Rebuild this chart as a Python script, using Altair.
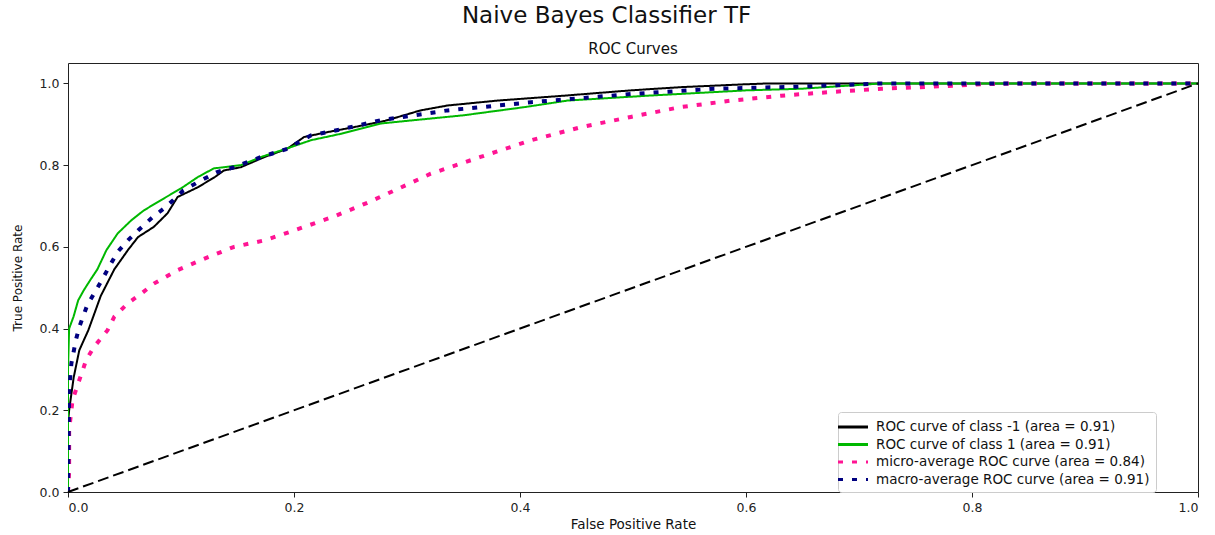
import altair as alt
import pandas as pd

# ---- data ----
series_names = [
    "ROC curve of class -1 (area = 0.91)",
    "ROC curve of class 1 (area = 0.91)",
    "micro-average ROC curve (area = 0.84)",
    "macro-average ROC curve (area = 0.91)",
]
series_colors = ["#000000", "#00b800", "#ff1493", "#000080"]
series_widths = [2, 2, 4, 4]
series_dashes = [[1, 0], [1, 0], [5, 9], [5, 9]]

fpr_neg1 = [0, 0, 0.001, 0.005, 0.01, 0.018, 0.029, 0.041, 0.053, 0.062, 0.076, 0.088, 0.097,
            0.115, 0.13, 0.138, 0.153, 0.174, 0.194, 0.209, 0.23, 0.253, 0.28, 0.312, 0.336,
            0.38, 0.439, 0.498, 0.543, 0.6, 0.62, 1.0]
tpr_neg1 = [0, 0.17, 0.2, 0.28, 0.347, 0.396, 0.48, 0.545, 0.592, 0.624, 0.649, 0.682, 0.722,
            0.746, 0.771, 0.787, 0.795, 0.82, 0.84, 0.869, 0.881, 0.893, 0.908, 0.934, 0.946,
            0.958, 0.97, 0.983, 0.991, 0.998, 1.0, 1.0]

fpr_pos1 = [0, 0, 0.001, 0.005, 0.009, 0.014, 0.02, 0.026, 0.034, 0.044, 0.056, 0.067, 0.082,
            0.1, 0.115, 0.129, 0.153, 0.171, 0.194, 0.215, 0.242, 0.277, 0.306, 0.35, 0.404,
            0.442, 0.513, 0.6, 0.649, 0.72, 1.0]
tpr_pos1 = [0, 0.3, 0.4, 0.43, 0.469, 0.494, 0.52, 0.545, 0.592, 0.633, 0.665, 0.689, 0.714,
            0.743, 0.771, 0.792, 0.80, 0.82, 0.841, 0.861, 0.877, 0.902, 0.91, 0.922, 0.942,
            0.958, 0.97, 0.983, 0.987, 1.0, 1.0]

fpr_micro = [0, 0.001, 0.001, 0.004, 0.009, 0.013, 0.016, 0.023, 0.035, 0.041, 0.053, 0.065,
             0.076, 0.097, 0.124, 0.147, 0.174, 0.2, 0.236, 0.265, 0.292, 0.321, 0.365, 0.41,
             0.454, 0.498, 0.542, 0.587, 0.631, 0.675, 0.72, 0.764, 0.808, 0.837, 1.0]
tpr_micro = [0, 0.05, 0.152, 0.225, 0.266, 0.298, 0.323, 0.355, 0.396, 0.429, 0.462, 0.486,
             0.51, 0.543, 0.575, 0.6, 0.616, 0.64, 0.675, 0.708, 0.742, 0.779, 0.82, 0.861,
             0.893, 0.918, 0.942, 0.958, 0.97, 0.979, 0.987, 0.992, 0.998, 1.0, 1.0]

fpr_macro = [0, 0.001, 0.003, 0.007, 0.01, 0.017, 0.029, 0.038, 0.044, 0.053, 0.062, 0.075,
             0.085, 0.093, 0.102, 0.118, 0.132, 0.147, 0.171, 0.194, 0.215, 0.244, 0.277,
             0.336, 0.41, 0.498, 0.572, 0.646, 0.72, 1.0]
tpr_macro = [0, 0.249, 0.315, 0.372, 0.404, 0.457, 0.514, 0.559, 0.588, 0.616, 0.64, 0.673,
             0.694, 0.714, 0.738, 0.763, 0.783, 0.795, 0.82, 0.84, 0.873, 0.889, 0.91,
             0.934, 0.954, 0.974, 0.987, 0.992, 1.0, 1.0]

chance_x = [0, 1]
chance_y = [0, 1]

axis_ticks = [0.0, 0.2, 0.4, 0.6, 0.8, 1.0]

# ---- build table ----
rows = []
for name, w, xs, ys in zip(series_names, series_widths,
                           [fpr_neg1, fpr_pos1, fpr_micro, fpr_macro],
                           [tpr_neg1, tpr_pos1, tpr_micro, tpr_macro]):
    for i, (a, b) in enumerate(zip(xs, ys)):
        rows.append({"series": name, "fpr": a, "tpr": b, "idx": i, "lw": w})
df = pd.DataFrame(rows)
chance = pd.DataFrame({"fpr": chance_x, "tpr": chance_y})

FONT = "DejaVu Sans"

x_enc = alt.X("fpr:Q", scale=alt.Scale(domain=[0, 1], nice=False, zero=False),
              axis=alt.Axis(values=axis_ticks, format=".1f", title="False Positive Rate"))
y_enc = alt.Y("tpr:Q", scale=alt.Scale(domain=[0, 1.05], nice=False, zero=False),
              axis=alt.Axis(values=axis_ticks, format=".1f", title="True Positive Rate"))

color_enc = alt.Color(
    "series:N", sort=series_names,
    scale=alt.Scale(domain=series_names, range=series_colors),
    legend=alt.Legend(title=None, orient="none", legendX=770, legendY=349,
                      symbolType="M-2,0H2", symbolSize=225, symbolStrokeWidth=3,
                      labelFontSize=13.5, labelFont=FONT, labelColor="#111",
                      labelLimit=0, rowPadding=1.5, padding=6, fillColor="white",
                      strokeColor="#cccccc", cornerRadius=3, labelOffset=14),
)
dash_enc = alt.StrokeDash(
    "series:N", sort=series_names,
    scale=alt.Scale(domain=series_names, range=series_dashes),
)
width_enc = alt.StrokeWidth("lw:Q", scale=None, legend=None)

layers = []
for name in series_names:
    layers.append(
        alt.Chart(df).transform_filter(alt.datum.series == name)
        .mark_line(clip=True)
        .encode(x=x_enc, y=y_enc, color=color_enc, strokeDash=dash_enc,
                strokeWidth=width_enc, order="idx:Q")
    )

diag = alt.Chart(chance).mark_line(color="black", strokeWidth=2, strokeDash=[11, 5]).encode(
    x=alt.X("fpr:Q"), y=alt.Y("tpr:Q"))

inner = alt.layer(*layers, diag).properties(
    width=1130, height=429,
    title=alt.TitleParams("ROC Curves", fontSize=15, font=FONT, fontWeight="normal",
                          anchor="middle", offset=6, color="#111"),
)

chart = alt.vconcat(inner).properties(
    title=alt.TitleParams("Naive Bayes Classifier TF", fontSize=23, font=FONT,
                          fontWeight="normal", anchor="middle", frame="bounds",
                          offset=14, color="#111"),
    padding={"left": 10, "top": 4, "right": 5, "bottom": 3},
).configure_view(stroke="#222", strokeWidth=1).configure_axis(
    grid=False, domain=False, tickColor="#222", tickSize=5, labelPadding=4,
    labelFont=FONT, labelFontSize=12.5, labelColor="#222",
    titleFont=FONT, titleFontSize=13.5, titleFontWeight="normal", titleColor="#111",
).configure_axisY(titlePadding=15, titleFontSize=12).configure_axisX(titlePadding=4)

chart.save("out.html", embed_options={"renderer": "svg", "actions": False})
